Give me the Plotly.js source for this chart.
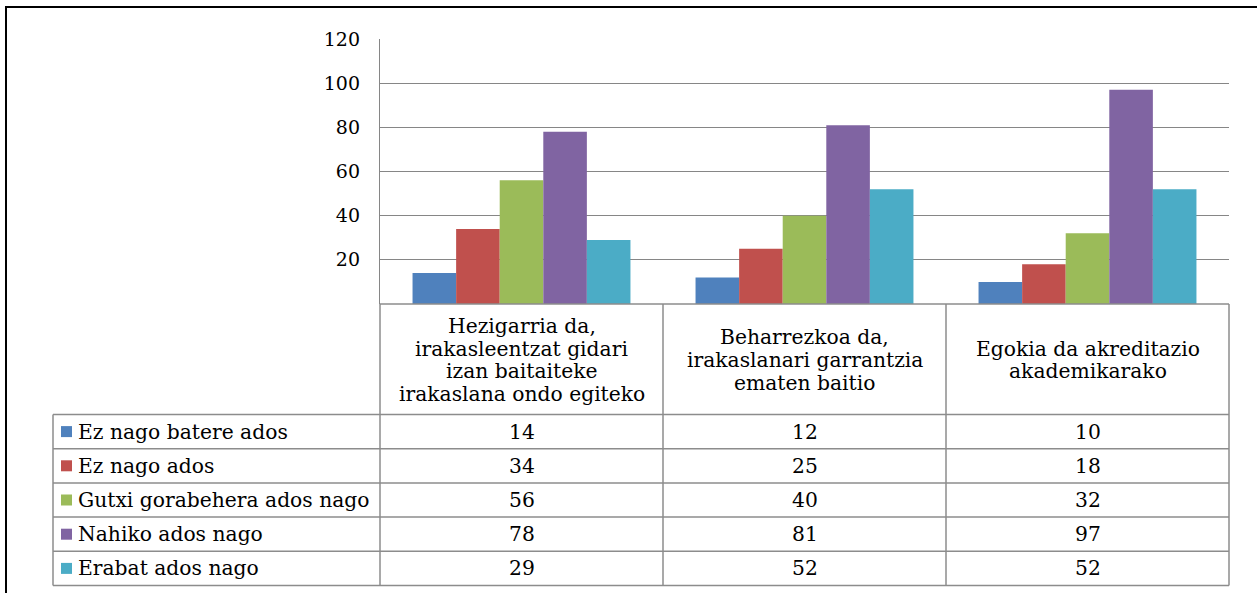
<!DOCTYPE html>
<html>
<head>
<meta charset="utf-8">
<script src="https://cdn.plot.ly/plotly-3.0.1.min.js"></script>
<style>html,body{margin:0;padding:0;background:#fff;}#chart{width:1257px;height:593px;}</style>
</head>
<body>
<div id="chart"></div>
<script>
// ---- data ----
const categories = [
  "Hezigarria da,<br>irakasleentzat gidari<br>izan baitaiteke<br>irakaslana ondo egiteko",
  "Beharrezkoa da,<br>irakaslanari garrantzia<br>ematen baitio",
  "Egokia da akreditazio<br>akademikarako"
];
const seriesNames = ["Ez nago batere ados", "Ez nago ados", "Gutxi gorabehera ados nago", "Nahiko ados nago", "Erabat ados nago"];
const ezNagoBatereAdos = [14, 12, 10];
const ezNagoAdos = [34, 25, 18];
const gutxiGorabehera = [56, 40, 32];
const nahikoAdos = [78, 81, 97];
const erabatAdos = [29, 52, 52];
const seriesValues = [ezNagoBatereAdos, ezNagoAdos, gutxiGorabehera, nahikoAdos, erabatAdos];
const yTickVals = [20, 40, 60, 80, 100, 120];
const yTickText = ["20", "40", "60", "80", "100", "120"];

// ---- style ----
const colors = ["#4F81BD", "#C0504D", "#9BBB59", "#8064A2", "#4BACC6"];
const FONT = "DejaVu Serif";
const FS = 20.3;
const TFS = 19;
const W = 1257, H = 593;
const px = x => x / W, py = y => 1 - y / H;
const plotL = 380, plotR = 1229, plotT = 39, plotB = 304;
const hdrB = 414.5, rowH = 34.2;
const tableL = 53;
const colEdges = [380, 663, 946, 1229];
const lineCol = "#8c8c8c";

const traces = seriesValues.map((vals, i) => ({
  type: "bar", name: seriesNames[i], x: categories, y: vals,
  marker: {color: colors[i], line: {width: 0}}, hoverinfo: "y+name"
}));

const shapes = [];
function hline(y, x0, x1, color, w) {
  shapes.push({type: "line", xref: "paper", yref: "paper", x0: px(x0), x1: px(x1), y0: py(y), y1: py(y), line: {color: color || lineCol, width: w || 1.5}});
}
function vline(x, y0, y1, color, w) {
  shapes.push({type: "line", xref: "paper", yref: "paper", x0: px(x), x1: px(x), y0: py(y0), y1: py(y1), line: {color: color || lineCol, width: w || 1.5}});
}
// outer border
vline(6, 6, 593, "#000", 2);
hline(7, 5, 1257, "#000", 2);
// table
hline(plotB, plotL, plotR);
for (let r = 0; r <= seriesNames.length; r++) hline(hdrB + r * rowH, tableL, plotR);
vline(tableL, hdrB, hdrB + seriesNames.length * rowH);
colEdges.forEach(x => vline(x, plotB, hdrB + seriesNames.length * rowH));

const annotations = [];
// header labels
categories.forEach((c, i) => {
  const lines = c.split("<br>");
  const cx = (colEdges[i] + colEdges[i + 1]) / 2;
  const lh = 22.7, cy = 360;
  lines.forEach((t, j) => {
    annotations.push({xref: "paper", yref: "paper", x: px(cx), y: py(cy + (j - (lines.length - 1) / 2) * lh),
      text: t, showarrow: false, xanchor: "center", yanchor: "middle", font: {family: FONT, size: FS, color: "#000"}});
  });
});
// rows
seriesNames.forEach((n, s) => {
  const cy = hdrB + rowH * (s + 0.5);
  shapes.push({type: "rect", xref: "paper", yref: "paper", x0: px(61), x1: px(72), y0: py(cy + 5.5), y1: py(cy - 5.5), fillcolor: colors[s], line: {width: 0}});
  annotations.push({xref: "paper", yref: "paper", x: px(76), y: py(cy), text: n, showarrow: false, xanchor: "left", yanchor: "middle", font: {family: FONT, size: FS, color: "#000"}});
  seriesValues[s].forEach((v, i) => {
    const cx = (colEdges[i] + colEdges[i + 1]) / 2;
    annotations.push({xref: "paper", yref: "paper", x: px(cx), y: py(cy), text: String(v), showarrow: false, xanchor: "center", yanchor: "middle", font: {family: FONT, size: FS, color: "#000"}});
  });
});

const layout = {
  width: W, height: H, margin: {l: 0, r: 0, t: 0, b: 0},
  paper_bgcolor: "#fff", plot_bgcolor: "#fff",
  showlegend: false, barmode: "group", bargap: 0.23, bargroupgap: 0,
  xaxis: {domain: [px(plotL), px(plotR)], type: "category", showticklabels: false, showgrid: false, zeroline: false, showline: false, fixedrange: true},
  yaxis: {domain: [py(plotB), py(plotT)], range: [0, 120], tickvals: yTickVals, ticktext: yTickText, showgrid: true, gridcolor: "#868686", gridwidth: 1.3,
    zeroline: false, showline: true, linecolor: "#868686", linewidth: 1.3, ticks: "", ticklabelstandoff: 15,
    tickfont: {family: FONT, size: TFS, color: "#000"}, fixedrange: true},
  shapes: shapes, annotations: annotations,
  font: {family: FONT, size: FS, color: "#000"}
};
Plotly.newPlot("chart", traces, layout, {displayModeBar: false, staticPlot: false});
</script>
</body>
</html>
